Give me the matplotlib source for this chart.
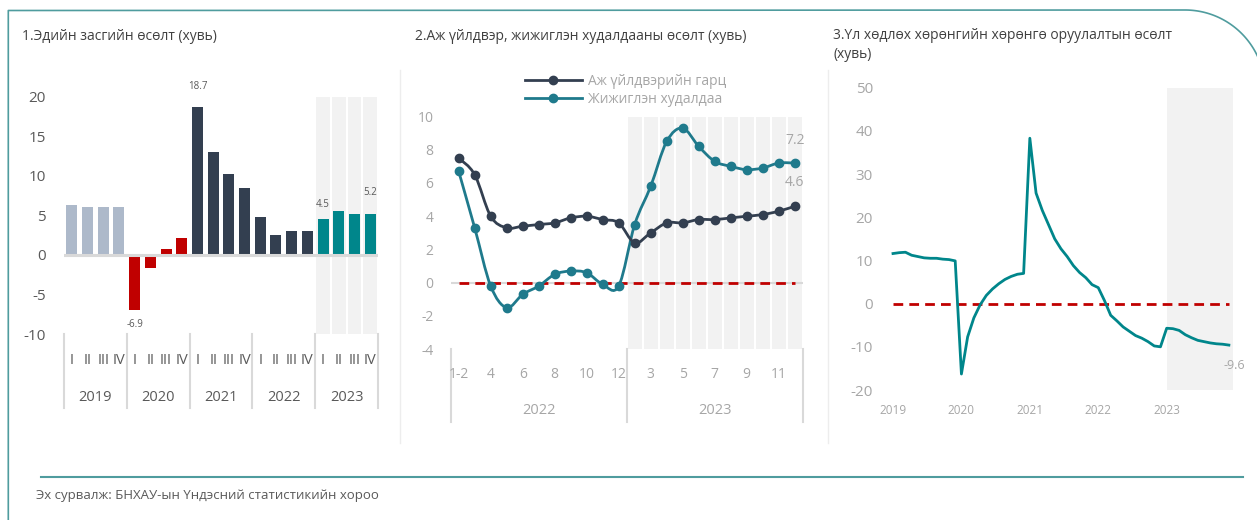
import numpy as np
import matplotlib
matplotlib.use('Agg')
import matplotlib.pyplot as plt
from matplotlib.path import Path
from matplotlib.patches import PathPatch
from matplotlib.lines import Line2D

plt.rcParams['font.family'] = ['Open Sans', 'DejaVu Sans']
plt.rcParams['axes.unicode_minus'] = False

# ---- 1. ДНБ-ий өсөлт (хуримтлагдсан, улирлаар) ----
years1 = ['2019', '2020', '2021', '2022', '2023']
quarters = ['I', 'II', 'III', 'IV']
gdp = [6.3, 6.1, 6.1, 6.1,
       -6.9, -1.6, 0.7, 2.2,
       18.7, 13.0, 10.2, 8.4,
       4.8, 2.5, 3.0, 3.0,
       4.5, 5.6, 5.2, 5.2]

# ---- 2. Аж үйлдвэр, жижиглэн худалдаа (сараар) ----
years2 = ['2022', '2023']
months = ['1-2', '3', '4', '5', '6', '7', '8', '9', '10', '11', '12']
industry = [7.5, 6.5, 4.0, 3.3, 3.4, 3.5, 3.6, 3.9, 4.0, 3.8, 3.6,
            2.4, 3.0, 3.6, 3.6, 3.8, 3.8, 3.9, 4.0, 4.1, 4.3, 4.6]
retail = [6.7, 3.3, -0.2, -1.5, -0.7, -0.2, 0.5, 0.7, 0.6, -0.1, -0.2,
          3.5, 5.8, 8.5, 9.3, 8.2, 7.3, 7.0, 6.8, 6.9, 7.2, 7.2]

# ---- 3. Үл хөдлөх хөрөнгийн хөрөнгө оруулалт (сараар) ----
years3 = ['2019', '2020', '2021', '2022', '2023']
realestate = [11.6, 11.8, 11.9, 11.2, 10.9, 10.6, 10.5, 10.5, 10.3, 10.2, 9.9,
              -16.3, -7.7, -3.3, -0.3, 1.9, 3.4, 4.6, 5.6, 6.3, 6.8, 7.0,
              38.3, 25.6, 21.6, 18.3, 15.0, 12.7, 10.9, 8.8, 7.2, 6.0, 4.4,
              3.7, 0.7, -2.7, -4.0, -5.4, -6.4, -7.4, -8.0, -8.8, -9.8, -10.0,
              -5.7, -5.8, -6.2, -7.2, -7.9, -8.5, -8.8, -9.1, -9.3, -9.4, -9.6]

W, H = 1257, 520
TITLE = '#404040'
DARK = '#595959'
LIGHT = '#A6A6A6'
SHADE = '#F2F2F2'
RED = '#C00000'
TEAL = '#00868B'
NAVY = '#333F50'
BORDER = '#4F9C9E'

fig = plt.figure(figsize=(W / 100, H / 100), dpi=100)


def px_axes(l, t, r, b):
    return fig.add_axes([l / W, 1 - b / H, (r - l) / W, (b - t) / H])


def frac(ypx, t, b):
    return (b - ypx) / (b - t)


def smooth_path(x, y):
    # Catmull-Rom -> Bezier, like Excel's smoothed line
    x = np.asarray(x, float)
    y = np.asarray(y, float)
    n = len(x)
    verts = [(x[0], y[0])]
    codes = [Path.MOVETO]
    for i in range(n - 1):
        j0 = max(i - 1, 0)
        j3 = min(i + 2, n - 1)
        c1 = (x[i] + (x[i + 1] - x[j0]) / 6, y[i] + (y[i + 1] - y[j0]) / 6)
        c2 = (x[i + 1] - (x[j3] - x[i]) / 6, y[i + 1] - (y[j3] - y[i]) / 6)
        verts += [c1, c2, (x[i + 1], y[i + 1])]
        codes += [Path.CURVE4] * 3
    return Path(verts, codes)


# ---- фон, хүрээ ----
bg = fig.add_axes([0, 0, 1, 1], zorder=-5)
bg.set_xlim(0, W)
bg.set_ylim(H, 0)
bg.axis('off')
t = np.radians(np.linspace(90, 20, 60))
bg.plot(np.r_[8.3, 8.3, 1185 + 80 * np.cos(t)], np.r_[H, 10.5, 90 - 80 * np.sin(t)],
        color=BORDER, lw=1.2, solid_capstyle='butt')
bg.plot([40.7, 1242.7], [476.7, 476.7], color=BORDER, lw=1.5)
bg.plot([400, 400], [70, 443], color='#EDEDED', lw=1)
bg.plot([828, 828], [70, 443], color='#EDEDED', lw=1)
bg.text(36, 495, 'Эх сурвалж: БНХАУ-ын Үндэсний статистикийн хороо',
        fontsize=9.5, color=DARK, va='center')
bg.text(22, 37, '1.Эдийн засгийн өсөлт (хувь)', fontsize=10, color=TITLE, va='center')
bg.text(415, 37, '2.Аж үйлдвэр, жижиглэн худалдааны өсөлт (хувь)', fontsize=10,
        color=TITLE, va='center')
bg.text(833, 28, '3.Үл хөдлөх хөрөнгийн хөрөнгө оруулалтын өсөлт\n(хувь)', fontsize=10,
        color=TITLE, va='top', linespacing=1.4)

# ================= 1 =================
T1, B1 = 96.6, 334.2
ax1 = px_axes(64, T1, 378, B1)
x1 = np.arange(len(gdp))
year_col = {'2019': '#ADB9CA', '2020': RED, '2021': NAVY, '2022': NAVY, '2023': TEAL}
cols1 = [year_col[y] for y in years1 for q in quarters]
shade1 = x1[-len(quarters):]
ax1.bar(shade1, 30, bottom=-10, width=0.88, color=SHADE, zorder=0)
ax1.bar(x1, gdp, width=0.7, color=cols1, zorder=2)
ax1.axhline(0, color='#D9D9D9', lw=2.2, zorder=3)
ax1.set_xlim(-0.5, len(gdp) - 0.5)
ax1.set_ylim(-10, 20)
ax1.set_yticks(range(-10, 21, 5))
ax1.tick_params(axis='y', length=0, pad=13, labelsize=11, labelcolor=DARK)
ax1.set_xticks([])
for s in ax1.spines.values():
    s.set_visible(False)

for i, v in [(8, 11), (4, -7), (16, 7), (19, 11.5)]:
    ax1.annotate(f'{gdp[i]:.1f}', (x1[i], gdp[i]), xytext=(0, v),
                 textcoords='offset points', ha='center',
                 va='bottom' if v > 0 else 'top', fontsize=7, color=DARK)

tr1 = ax1.get_xaxis_transform()
nq = len(quarters)
for k, yr in enumerate(years1):
    for j, q in enumerate(quarters):
        ax1.text(x1[k * nq + j], frac(360, T1, B1), q, transform=tr1, ha='center',
                 va='center', fontsize=10.5, color=DARK)
    ax1.text(x1[k * nq] + (nq - 1) / 2, frac(397.7, T1, B1), yr, transform=tr1,
             ha='center', va='center', fontsize=10.5, color=DARK)
for k in range(len(years1) + 1):
    xs = k * nq - 0.5
    ax1.plot([xs, xs], [0, frac(408, T1, B1)], transform=tr1, color='#D9D9D9',
             lw=1.5, clip_on=False)

# ================= 2 =================
T2, B2 = 116.5, 349.2
ax2 = px_axes(450.7, T2, 802.7, B2)
x2 = np.arange(len(industry))
nm = len(months)
ax2.bar(x2[nm:], 14, bottom=-4, width=0.88, color=SHADE, zorder=0)
ax2.axhline(0, color='#D9D9D9', lw=1.5, zorder=1)
ax2.plot(x2, np.zeros(len(x2)), color=RED, lw=2, dashes=(3.5, 2.2), zorder=2)
ax2.add_patch(PathPatch(smooth_path(x2, retail), fill=False, ec='#1F7A8C', lw=2, zorder=3))
ax2.add_patch(PathPatch(smooth_path(x2, industry), fill=False, ec=NAVY, lw=2, zorder=4))
ax2.plot(x2, retail, 'o', color='#1F7A8C', ms=6, zorder=3)
ax2.plot(x2, industry, 'o', color=NAVY, ms=6, zorder=4)
ax2.set_xlim(-0.5, len(x2) - 0.5)
ax2.set_ylim(-4, 10)
ax2.set_yticks(range(-4, 11, 2))
ax2.tick_params(axis='y', length=0, pad=12.5, labelsize=10, labelcolor=LIGHT)
ax2.set_xticks([])
for s in ax2.spines.values():
    s.set_visible(False)

ax2.annotate(f'{retail[-1]:.1f}', (x2[-1], retail[-1]), xytext=(0, 16.5),
             textcoords='offset points', ha='center', va='center', fontsize=10, color=LIGHT)
ax2.annotate(f'{industry[-1]:.1f}', (x2[-1], industry[-1]), xytext=(0, 17),
             textcoords='offset points', ha='center', va='center', fontsize=10, color=LIGHT)

tr2 = ax2.get_xaxis_transform()
all_months = months * len(years2)
for i in range(0, len(x2), 2):
    ax2.text(x2[i], frac(374, T2, B2), all_months[i], transform=tr2, ha='center',
             va='center', fontsize=10, color=LIGHT)
for k, yr in enumerate(years2):
    ax2.text(k * nm + (nm - 1) / 2, frac(410.7, T2, B2), yr, transform=tr2,
             ha='center', va='center', fontsize=10.5, color=LIGHT)
for k in range(len(years2) + 1):
    xs = k * nm - 0.5
    ax2.plot([xs, xs], [0, frac(422, T2, B2)], transform=tr2, color='#D9D9D9',
             lw=1.5, clip_on=False)

handles = [Line2D([], [], color=NAVY, lw=2, marker='o', ms=6),
           Line2D([], [], color='#1F7A8C', lw=2, marker='o', ms=6)]
ax2.legend(handles, ['Аж үйлдвэрийн гарц', 'Жижиглэн худалдаа'], loc='center left',
           bbox_to_anchor=(525 / W, 1 - 90.5 / H), bbox_transform=fig.transFigure,
           frameon=False, fontsize=10, labelcolor=LIGHT, handlelength=4.1,
           handletextpad=0.4, labelspacing=0.25, borderpad=0, borderaxespad=0)

# ================= 3 =================
ax3 = px_axes(880, 87.7, 1240, 390)
x3 = np.arange(len(realestate))
ny = 11
ax3.axvspan(x3[-ny], x3[-1] + 0.6, color=SHADE, zorder=0, lw=0)
ax3.plot(x3, np.zeros(len(x3)), color=RED, lw=2, dashes=(3.5, 2.2), zorder=2)
ax3.plot(x3, realestate, color=TEAL, lw=2, zorder=3)
ax3.set_xlim((880 - 893) / 6.22, (1240 - 893) / 6.22)
ax3.set_ylim(-20, 50)
ax3.set_yticks(range(-20, 51, 10))
ax3.set_xticks(x3[::ny])
ax3.set_xticklabels(years3)
ax3.tick_params(axis='y', length=0, pad=5, labelsize=11, labelcolor=LIGHT)
ax3.tick_params(axis='x', length=0, pad=10, labelsize=8.5, labelcolor=LIGHT)
for s in ax3.spines.values():
    s.set_visible(False)
ax3.annotate(f'{realestate[-1]:.1f}', (x3[-1], realestate[-1]), xytext=(4, -15),
             textcoords='offset points', ha='center', va='center', fontsize=9,
             color=LIGHT, annotation_clip=False)

fig.savefig('out.png', dpi=100)
